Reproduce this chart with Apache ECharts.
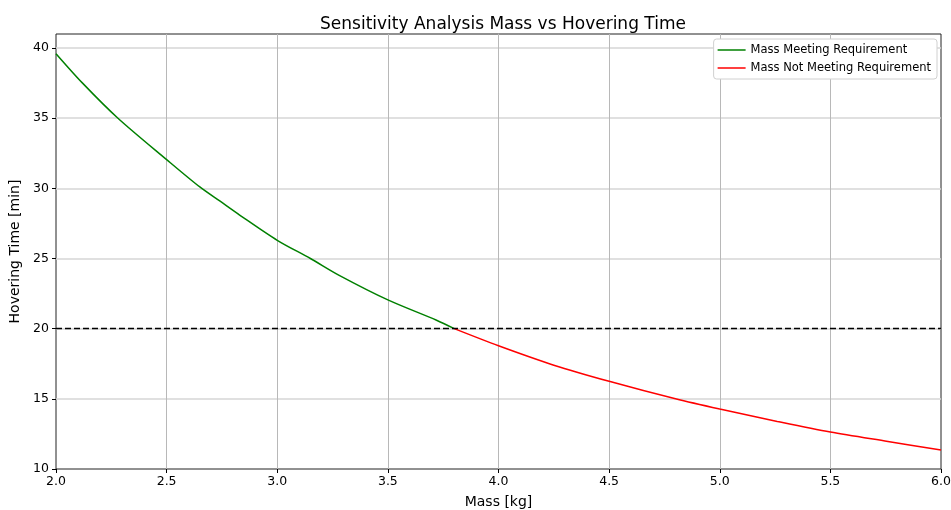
<!DOCTYPE html>
<html>
<head>
<meta charset="utf-8">
<script src="https://cdn.jsdelivr.net/npm/echarts@6/dist/echarts.min.js"></script>
<style>
  html, body { margin: 0; padding: 0; background: #fff; }
  #chart { width: 951px; height: 510px; }
</style>
</head>
<body>
<div id="chart"></div>
<script>
// values
const massMeeting = [2.0, 2.12, 2.28, 2.5, 2.65, 2.74, 2.83, 3.0, 3.15, 3.28, 3.5, 3.72, 3.8];
const timeMeeting = [39.6, 37.5, 35.0, 32.05, 30.1, 29.1, 28.1, 26.3, 25.0, 23.8, 22.05, 20.6, 20.0];
const massNotMeeting = [3.8, 4.0, 4.25, 4.5, 4.8, 5.0, 5.26, 5.5, 5.76, 6.0];
const timeNotMeeting = [20.0, 18.78, 17.4, 16.25, 15.0, 14.27, 13.39, 12.63, 11.96, 11.35];
const requirement = 20;

const font = 'DejaVu Sans';
const chart = echarts.init(document.getElementById('chart'));

const pairs = (xs, ys) => xs.map((x, i) => [x, ys[i]]);

const option = {
    backgroundColor: '#fff',
    animation: false,
    textStyle: {fontFamily: font},
    title: {
        text: 'Sensitivity Analysis Mass vs Hovering Time',
        left: 498, top: 11, textAlign: 'center',
        textStyle: {fontFamily: font, fontSize: 17, fontWeight: 'normal', color: '#000'}
    },
    grid: {
        left: 56, right: 10, top: 34, bottom: 41,
        outerBoundsMode: 'none',
        containLabel: false,
        show: true, borderColor: '#222', borderWidth: 1
    },
    legend: {
        orient: 'vertical',
        right: 14, top: 39,
        icon: 'rect',
        itemWidth: 28, itemHeight: 1.5,
        itemGap: 6,
        padding: [5, 6, 5, 4],
        backgroundColor: '#fff',
        borderColor: '#d0d0d0', borderWidth: 1, borderRadius: 3,
        textStyle: {fontFamily: font, fontSize: 11.5, color: '#000'},
        data: ['Mass Meeting Requirement', 'Mass Not Meeting Requirement']
    },
    xAxis: {
        type: 'value',
        min: 2, max: 6, interval: 0.5,
        name: 'Mass [kg]', nameLocation: 'middle', nameGap: 26,
        nameTextStyle: {fontFamily: font, fontSize: 14, color: '#000'},
        axisLine: {show: false},
        axisTick: {show: true, length: 4, lineStyle: {color: '#000'}},
        axisLabel: {color: '#000', fontSize: 12.5, margin: 6,
            formatter: v => v.toFixed(1)},
        splitLine: {show: true, showMinLine: false, showMaxLine: false,
            lineStyle: {color: '#b8b8b8', width: 1}}
    },
    yAxis: {
        type: 'value',
        min: 10, max: 41, interval: 5,
        name: 'Hovering Time [min]', nameLocation: 'middle', nameGap: 27,
        nameTextStyle: {fontFamily: font, fontSize: 14, color: '#000'},
        axisLine: {show: false},
        axisTick: {show: true, length: 4, lineStyle: {color: '#000'}},
        axisLabel: {color: '#000', fontSize: 12.5, margin: 7, showMaxLabel: false},
        splitLine: {show: true, showMinLine: false, showMaxLine: false,
            lineStyle: {color: '#d6d6d6', width: 1.5}}
    },
    series: [
        {
            name: 'Mass Meeting Requirement',
            type: 'line',
            data: pairs(massMeeting, timeMeeting),
            smooth: 0.3,
            showSymbol: false,
            color: '#008000',
            lineStyle: {width: 1.5, color: '#008000'},
            z: 3,
            markLine: {
                silent: true,
                symbol: 'none',
                label: {show: false},
                lineStyle: {color: '#000', type: [6, 3], width: 1.4},
                data: [{yAxis: requirement}]
            }
        },
        {
            name: 'Mass Not Meeting Requirement',
            type: 'line',
            data: pairs(massNotMeeting, timeNotMeeting),
            smooth: 0.3,
            showSymbol: false,
            color: '#ff0000',
            lineStyle: {width: 1.5, color: '#ff0000'},
            z: 3
        }
    ]
};

chart.setOption(option);
</script>
</body>
</html>
